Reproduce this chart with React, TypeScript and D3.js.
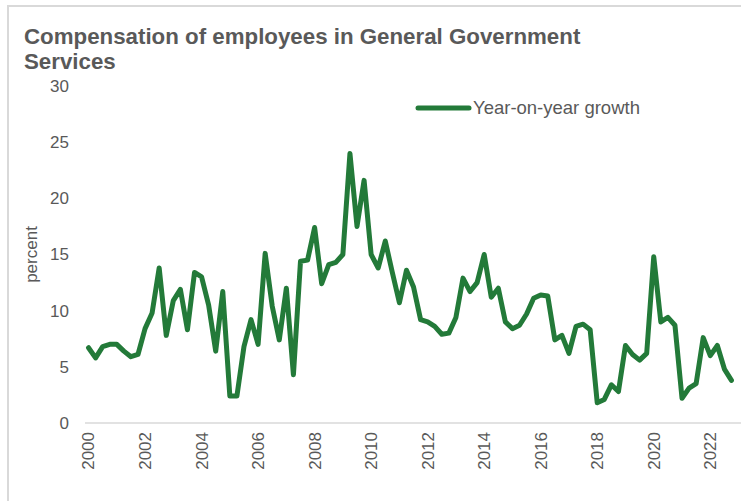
import React, { useEffect, useRef } from "react";
import * as d3 from "d3";

const TITLE_LINES = ["Compensation of employees in General Government", "Services"];
const SERIES_NAME = "Year-on-year growth";
const Y_TITLE = "percent";
const YEARS = [2000, 2001, 2002, 2003, 2004, 2005, 2006, 2007, 2008, 2009, 2010, 2011, 2012, 2013, 2014, 2015, 2016, 2017, 2018, 2019, 2020, 2021, 2022];
const QUARTERS = ["Q1", "Q2", "Q3", "Q4"];
const TICK_YEARS = ["2000", "2002", "2004", "2006", "2008", "2010", "2012", "2014", "2016", "2018", "2020", "2022"];
const Y_TICKS = [0, 5, 10, 15, 20, 25, 30];
const VALUES = [
  6.7, 5.8, 6.8, 7.0, 7.0, 6.4, 5.9, 6.1,
  8.4, 9.8, 13.8, 7.8, 10.9, 11.9, 8.3, 13.4,
  13.0, 10.5, 6.4, 11.7, 2.4, 2.4, 6.8, 9.2,
  7.0, 15.1, 10.4, 7.4, 12.0, 4.3, 14.4, 14.5,
  17.4, 12.4, 14.1, 14.3, 15.0, 24.0, 17.5, 21.6,
  15.0, 13.8, 16.2, 13.4, 10.7, 13.6, 12.1, 9.2,
  9.0, 8.6, 7.9, 8.0, 9.4, 12.9, 11.7, 12.5,
  15.0, 11.2, 12.0, 9.0, 8.4, 8.7, 9.7, 11.1,
  11.4, 11.3, 7.4, 7.8, 6.2, 8.6, 8.8, 8.3,
  1.8, 2.1, 3.4, 2.8, 6.9, 6.1, 5.6, 6.2,
  14.8, 9.0, 9.4, 8.7, 2.2, 3.1, 3.5, 7.6,
  6.0, 6.9, 4.8, 3.8,
];

const CATEGORIES: string[] = [];
YEARS.forEach((y) => QUARTERS.forEach((q) => CATEGORIES.push(`${y}${q}`)));

const W = 741;
const H = 501;

export default function App() {
  const ref = useRef<SVGSVGElement>(null);
  useEffect(() => {
    const svg = d3.select(ref.current);
    svg.selectAll("*").remove();
    const font = "'Liberation Sans', Arial, sans-serif";
    const grey = "#595959";
    const green = "#237a39";

    svg.append("rect").attr("x", 0).attr("y", 0).attr("width", W).attr("height", H).attr("fill", "#fff");
    svg.append("rect").attr("x", 8).attr("y", 6).attr("width", 800).attr("height", 600)
      .attr("fill", "#fff").attr("stroke", "#d9d9d9").attr("stroke-width", 2);

    const data = CATEGORIES.slice(0, VALUES.length).map((c, i) => ({ c, v: VALUES[i] }));
    const x = d3.scalePoint<string>().domain(data.map((d) => d.c)).range([85, 735]).padding(0.5);
    const y = d3.scaleLinear().domain([0, 30]).range([423, 86]);

    // title
    TITLE_LINES.forEach((t, i) => {
      svg.append("text").attr("x", 24).attr("y", 44 + i * 25).text(t)
        .attr("font-family", font).attr("font-weight", "bold").attr("font-size", 22.3).attr("fill", grey);
    });

    // y ticks
    svg.append("g").selectAll("text").data(Y_TICKS).join("text")
      .attr("x", 69).attr("y", (d) => y(d)).attr("dy", "0.35em").attr("text-anchor", "end")
      .attr("font-family", font).attr("font-size", 17).attr("fill", grey).text((d) => d);

    svg.append("text").attr("transform", `translate(37,${y(15)}) rotate(-90)`)
      .attr("text-anchor", "middle").attr("font-family", font).attr("font-size", 17).attr("fill", grey).text(Y_TITLE);

    // axis line
    svg.append("line").attr("x1", 85).attr("x2", 741).attr("y1", y(0)).attr("y2", y(0))
      .attr("stroke", "#d9d9d9").attr("stroke-width", 1.5);

    // x labels
    svg.append("g").selectAll("text").data(TICK_YEARS).join("text")
      .attr("transform", (d) => `translate(${x(d + "Q1")},432) rotate(-90)`)
      .attr("dy", "0.35em").attr("text-anchor", "end")
      .attr("font-family", font).attr("font-size", 17).attr("fill", grey).text((d) => d);

    // line
    const line = d3.line<{ c: string; v: number }>().x((d) => x(d.c) as number).y((d) => y(d.v));
    svg.append("path").datum(data).attr("d", line).attr("fill", "none").attr("stroke", green)
      .attr("stroke-width", 5).attr("stroke-linejoin", "round").attr("stroke-linecap", "round");

    // legend
    svg.append("line").attr("x1", 418).attr("x2", 469).attr("y1", 108).attr("y2", 108)
      .attr("stroke", green).attr("stroke-width", 5).attr("stroke-linecap", "round");
    svg.append("text").attr("x", 473).attr("y", 108).attr("dy", "0.35em")
      .attr("font-family", font).attr("font-size", 18.5).attr("fill", grey).text(SERIES_NAME);
  }, []);
  return (
    <div style={{ position: "absolute", left: 0, top: 0 }}>
      <svg ref={ref} width={W} height={H} style={{ display: "block" }} />
    </div>
  );
}
